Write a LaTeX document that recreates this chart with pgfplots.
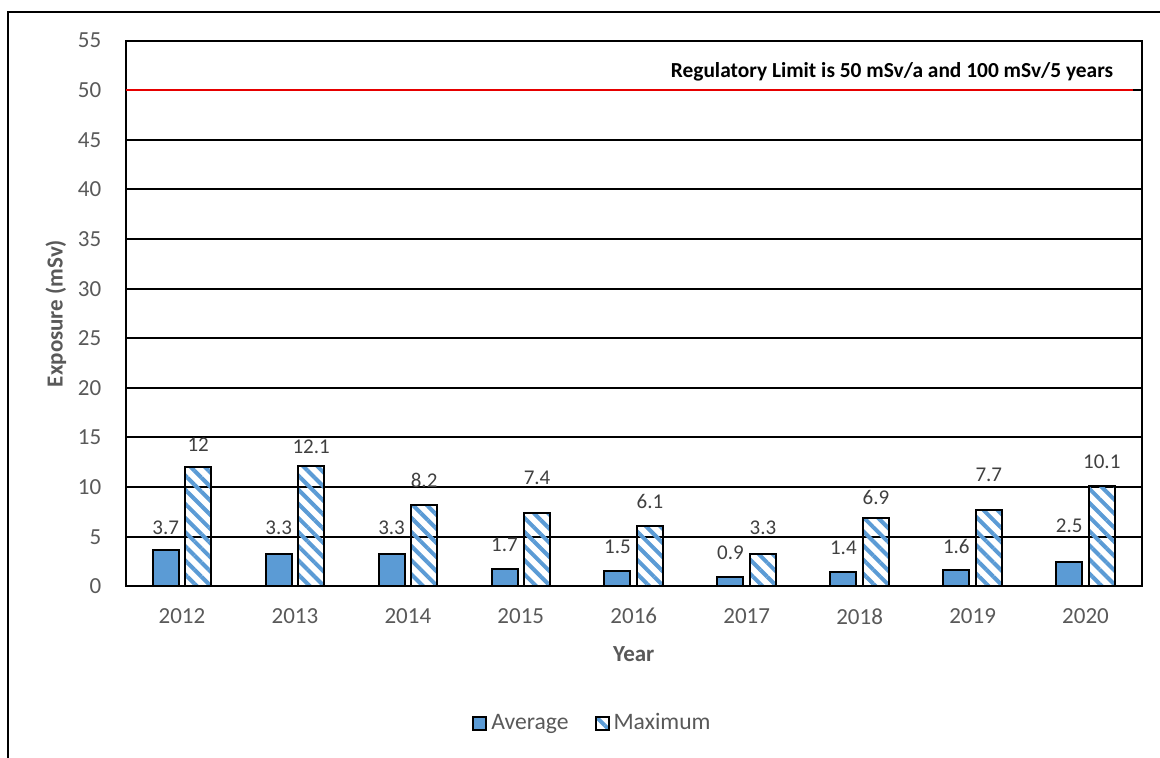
\documentclass[border=0pt]{standalone}
\usepackage{fontspec}
\setmainfont{Carlito}
\usepackage{pgfplots}
\usepackage{pgfplotstable}
\pgfplotsset{compat=1.18}
\usetikzlibrary{patterns.meta}

\definecolor{barblue}{RGB}{91,155,213}
\definecolor{ticktext}{RGB}{89,89,89}
\definecolor{labeltext}{RGB}{64,64,64}
\definecolor{limitred}{RGB}{230,0,0}

% yearly exposure (mSv)
\pgfplotstableread{
x avg max
0 3.7 12
1 3.3 12.1
2 3.3 8.2
3 1.7 7.4
4 1.5 6.1
5 0.9 3.3
6 1.4 6.9
7 1.6 7.7
8 2.5 10.1
}\exposure

% data-label positions (y in mSv) and their texts
\pgfplotstableread{
x ly lbl
0 5.88 3.7
1 5.88 3.3
2 5.88 3.3
3 4.16 1.7
4 3.97 1.5
5 3.37 0.9
6 3.86 1.4
7 3.97 1.6
8 6.08 2.5
}\avglabels
\pgfplotstableread{
x ly lbl
0 14.24 12
1 14.04 12.1
2 10.72 8.2
3 10.92 7.4
4 8.50 6.1
5 5.88 3.3
6 9.00 6.9
7 11.22 7.7
8 12.53 10.1
}\maxlabels

\pgfplotsset{
  sqlegend/.style={legend image code/.code={%
    \draw[##1,line width=1pt] (0pt,-3.25pt) rectangle (6.5pt,3.25pt);}},
}

\begin{document}
\begin{tikzpicture}
\path[use as bounding box] (0,0) rectangle (580pt,-378.5pt);
\clip (0,0) rectangle (580pt,-378.5pt);
\draw[line width=1pt] (4pt,-6pt) rectangle (700pt,-700pt);
\begin{axis}[
  at={(62.75pt,-293.15pt)}, anchor=south west,
  width=508.25pt, height=272.85pt, scale only axis,
  xmin=-0.5, xmax=8.5, ymin=0, ymax=55,
  xtick={0,...,8},
  xticklabels={2012,2013,2014,2015,2016,2017,2018,2019,2020},
  ytick={0,5,...,55},
  major tick length=0pt,
  ymajorgrids,
  grid style={black, line width=1pt},
  axis line style={black, line width=1pt},
  /pgf/number format/assume math mode=true,
  tick label style={font=\fontsize{11.5}{13}\selectfont, text=ticktext, inner sep=0pt},
  xticklabel style={anchor=north, yshift=-10.85pt},
  yticklabel style={anchor=east, xshift=-11.9pt},
  xlabel={Year},
  ylabel={Exposure (mSv)},
  label style={font=\bfseries\fontsize{11.5}{13}\selectfont, text=ticktext},
  xlabel style={at={(axis description cs:0.5,-0.125)}, anchor=center},
  ylabel style={at={(axis description cs:-0.0684,0.5)}, anchor=center},
  legend style={at={(axis description cs:0.4604,-0.2505)}, anchor=center,
    draw=none, fill=none, legend columns=2,
    font=\fontsize{11.8}{13}\selectfont, text=ticktext,
    /tikz/every even column/.append style={column sep=11pt}},
]
\addplot[ybar, bar width=0.23, bar shift=-0.144, fill=barblue, draw=black,
  line width=1pt, sqlegend] table[x=x, y=avg] {\exposure};
\addplot[ybar, bar width=0.23, bar shift=0.144, draw=black, line width=1pt,
  pattern={Lines[angle=-45, distance=5pt, line width=2pt]},
  pattern color=barblue, sqlegend] table[x=x, y=max] {\exposure};
\legend{Average, Maximum}

% regulatory limit
\addplot[limitred, line width=1pt, forget plot] coordinates {(-0.5,50) (8.424,50)};
\node[anchor=east, font=\bfseries\fontsize{10.7}{12}\selectfont, text=black, inner sep=0pt]
  at (axis cs:8.247,51.85) {Regulatory Limit is 50 mSv/a and 100 mSv/5 years};

% value labels
\addplot[draw=none, mark=none, forget plot, nodes near coords,
  point meta=explicit symbolic, nodes near coords align=center,
  every node near coord/.append style={font=\fontsize{10.5}{12}\selectfont,
    text=labeltext, inner sep=0pt}]
  table[x expr=\thisrow{x}-0.144, y=ly, meta=lbl] {\avglabels};
\addplot[draw=none, mark=none, forget plot, nodes near coords,
  point meta=explicit symbolic, nodes near coords align=center,
  every node near coord/.append style={font=\fontsize{10.5}{12}\selectfont,
    text=labeltext, inner sep=0pt}]
  table[x expr=\thisrow{x}+0.144, y=ly, meta=lbl] {\maxlabels};
\end{axis}
\end{tikzpicture}
\end{document}
